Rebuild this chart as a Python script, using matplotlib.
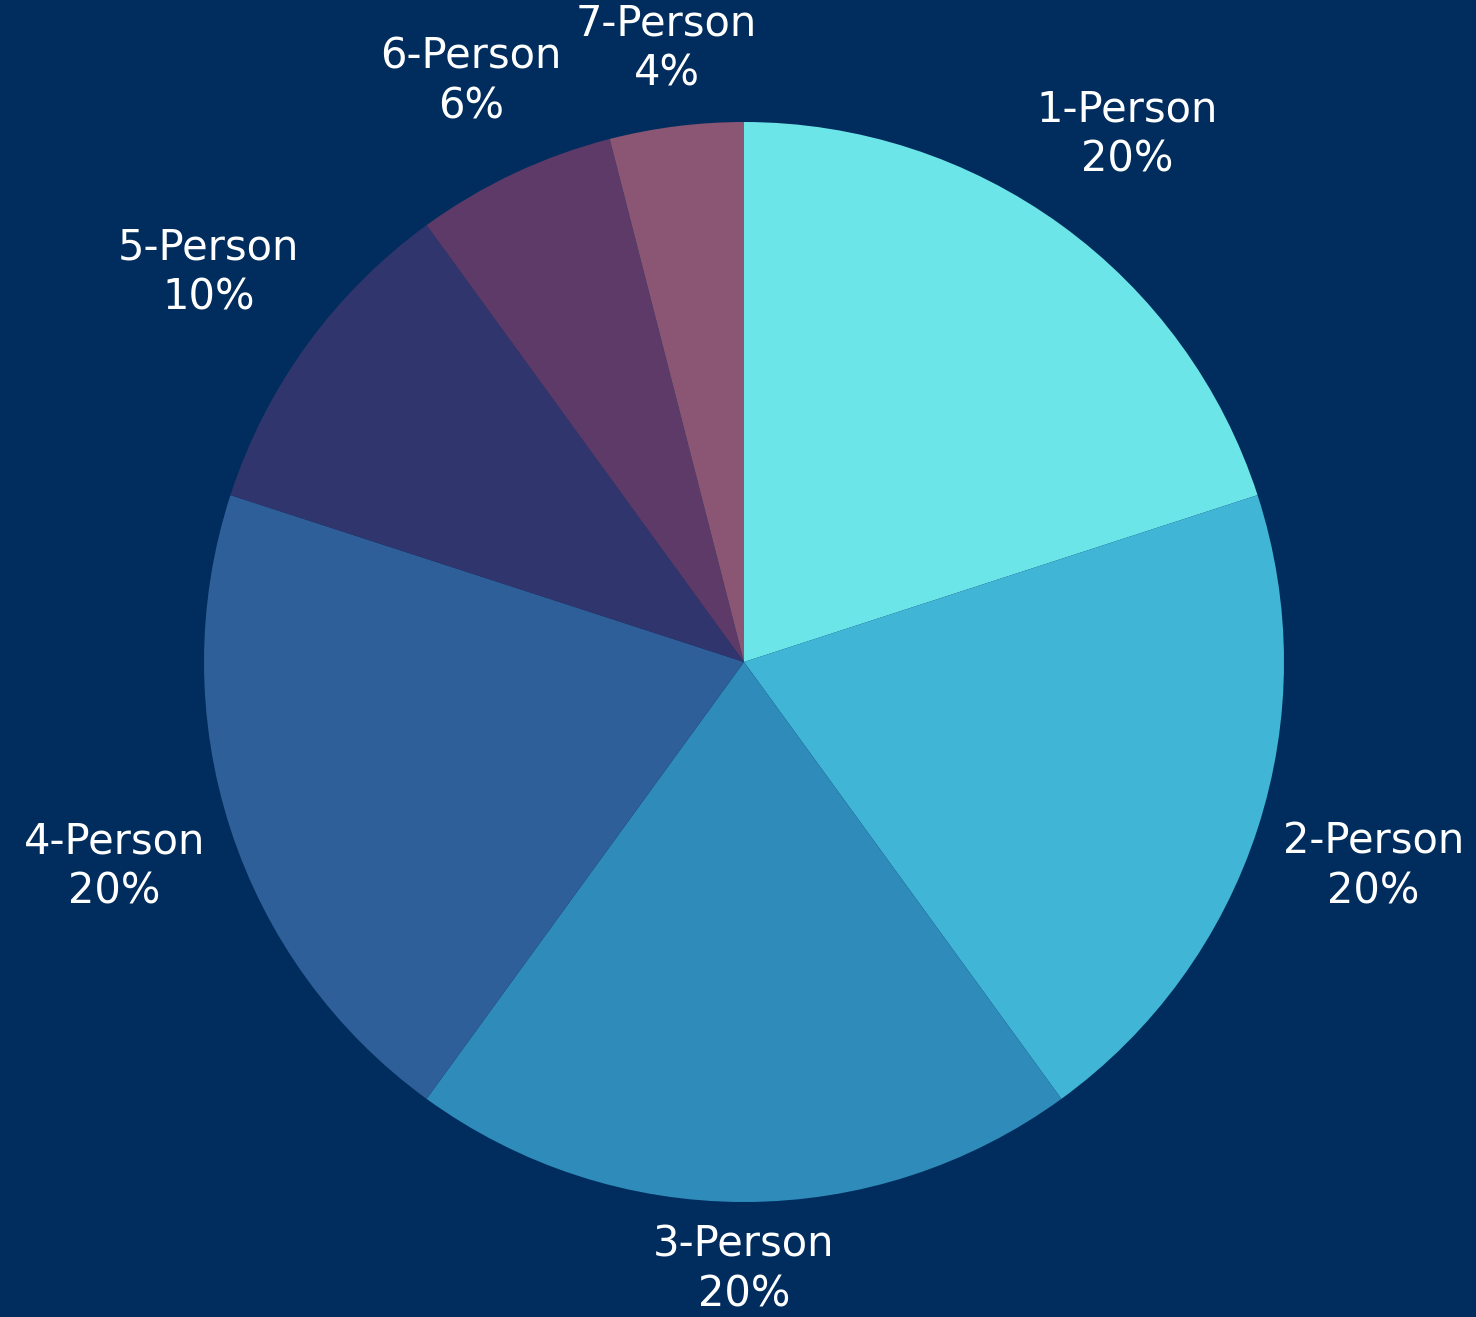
import matplotlib
matplotlib.use("Agg")
import matplotlib.pyplot as plt
import numpy as np

labels = ["1-Person", "2-Person", "3-Person", "4-Person", "5-Person", "6-Person", "7-Person"]
shares = [20, 20, 20, 20, 10, 6, 4]
colors = ["#6ce5e8", "#41b5d6", "#2e8bba", "#2e5f98", "#31356d", "#5e3a68", "#8a5673"]
bg = "#002d5d"

W, H = 1476, 1317
cx, cy, R = 744, 662, 540

fig = plt.figure(figsize=(W / 100, H / 100), dpi=100, facecolor=bg)
ax = fig.add_axes([(cx - R) / W, (H - cy - R) / H, 2 * R / W, 2 * R / H])
ax.set_facecolor(bg)
ax.pie(shares, colors=colors, startangle=90, counterclock=False, radius=1,
       wedgeprops=dict(linewidth=0))
ax.set_xlim(-1, 1)
ax.set_ylim(-1, 1)
ax.set_aspect("equal")
ax.axis("off")

fig.canvas.draw()
renderer = fig.canvas.get_renderer()

cum = np.cumsum([0] + shares)
total = sum(shares)
for i, lab in enumerate(labels):
    mid = (cum[i] + cum[i + 1]) / 2 / total * 2 * np.pi  # clockwise from top
    ux, uy = np.sin(mid), np.cos(mid)
    t = ax.text(0, 0, f"{lab}\n{shares[i]}%", ha="center", va="center",
                color="white", fontsize=30, fontfamily="DejaVu Sans",
                linespacing=1.25)
    bb = t.get_window_extent(renderer)
    w, h = bb.width / R, bb.height / R
    d = 1.04 + abs(ux) * w / 2 + abs(uy) * h / 2
    t.set_position((ux * d, uy * d))
    t.set_clip_on(False)

fig.savefig("out.png", dpi=100, facecolor=bg)
